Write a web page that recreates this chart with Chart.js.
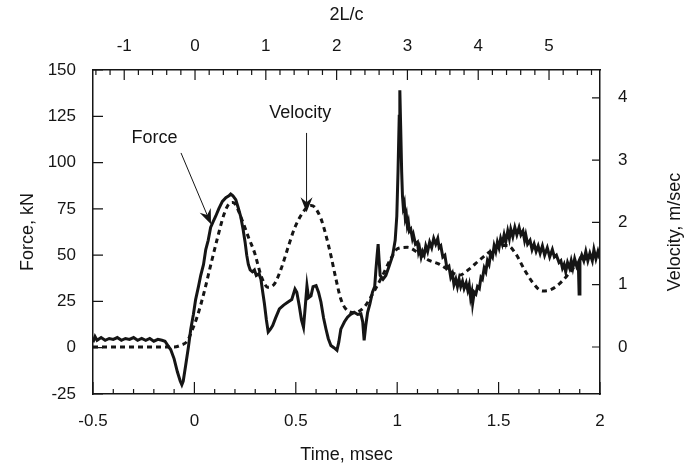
<!DOCTYPE html>
<html>
<head>
<meta charset="utf-8">
<script src="https://cdn.jsdelivr.net/npm/chart.js@4"></script>
<style>
  html, body { margin: 0; padding: 0; background: #fff; }
  canvas { display: block; }
</style>
</head>
<body>
<canvas id="forceVelocityChart" width="690" height="467"></canvas>
<script>
// force record, time in msec / force in kN
const forceTime = [
  -0.5, -0.49, -0.48, -0.46, -0.44, -0.42, -0.40, -0.38, -0.36, -0.34, -0.32, -0.30, -0.28, -0.26, -0.24, -0.22, -0.20, -0.18, -0.16, -0.145,
  -0.13, -0.117, -0.10, -0.084, -0.07, -0.062, -0.055, -0.043, -0.03, -0.018, -0.005, 0.006, 0.02, 0.031, 0.045, 0.056, 0.068, 0.08, 0.092, 0.105,
  0.12, 0.138, 0.155, 0.17, 0.179, 0.19, 0.204, 0.215, 0.228, 0.24, 0.25, 0.258, 0.266, 0.275, 0.286, 0.296, 0.305, 0.319, 0.328, 0.337,
  0.345, 0.355, 0.364, 0.375, 0.386, 0.40, 0.419, 0.44, 0.46, 0.48, 0.496, 0.505, 0.517, 0.528, 0.538, 0.545, 0.555, 0.563, 0.575, 0.585,
  0.60, 0.612, 0.624, 0.637, 0.649, 0.66, 0.673, 0.688, 0.703, 0.712, 0.722, 0.74, 0.755, 0.77, 0.788, 0.805, 0.821, 0.83, 0.837, 0.845,
  0.854, 0.866, 0.878, 0.889, 0.895, 0.901, 0.906, 0.911, 0.916, 0.93, 0.944, 0.96, 0.977, 0.99, 0.998, 1.004, 1.01, 1.013, 1.017, 1.022,
  1.026, 1.03, 1.035, 1.04, 1.045, 1.05, 1.055, 1.06, 1.067, 1.075, 1.08, 1.09, 1.10, 1.105, 1.11, 1.118, 1.125, 1.133, 1.141, 1.15,
  1.16, 1.17, 1.18, 1.19, 1.20, 1.207, 1.215, 1.225, 1.235, 1.245, 1.255, 1.264, 1.272, 1.28, 1.289, 1.297, 1.305, 1.313, 1.322, 1.33,
  1.34, 1.348, 1.355, 1.362, 1.368, 1.372, 1.38, 1.388, 1.396, 1.405, 1.413, 1.42, 1.429, 1.437, 1.445, 1.453, 1.461, 1.47, 1.478, 1.486,
  1.494, 1.502, 1.51, 1.518, 1.527, 1.535, 1.545, 1.553, 1.56, 1.57, 1.58, 1.59, 1.601, 1.61, 1.62, 1.628, 1.634, 1.643, 1.655, 1.665,
  1.675, 1.685, 1.695, 1.705, 1.716, 1.727, 1.74, 1.752, 1.765, 1.775, 1.785, 1.798, 1.807, 1.815, 1.823, 1.831, 1.84, 1.85, 1.858, 1.866,
  1.875, 1.885, 1.893, 1.897, 1.901, 1.91, 1.92, 1.93, 1.94, 1.95, 1.962, 1.97, 1.98, 1.99, 2.0
];
const forceKN = [
  3, 6, 4, 5.5, 4, 5, 4.5, 5.5, 4, 5, 4.5, 5.5, 4, 5, 4, 5, 3.5, 4.5, 4, 3.5,
  1, -1, -6, -13, -18, -20, -18, -9.5, 0, 10, 18, 26, 33, 39, 45, 53, 58, 65, 68, 71,
  75, 79, 81, 82, 83, 82, 80, 76, 71, 64, 57, 50, 45, 42, 41, 42, 39, 40, 37, 30,
  24, 15, 8.5, 10, 12, 16, 21, 23, 24.5, 26, 31.7, 30, 22.7, 15, 11, 20, 33.5, 27, 28, 33,
  33.5, 30, 24.7, 16, 10, 5, 1.2, 0, -1.4, 3, 10, 14, 16.5, 18, 19.2, 18, 18.3, 14, 4, 12,
  19, 24, 30, 33, 42, 50, 56, 47, 39, 37, 39, 44, 49.6, 58, 71, 95, 125, 139, 120, 95,
  82, 76, 78, 70, 72, 66, 68, 63, 64, 59, 61, 56, 57, 52, 54, 49, 52, 50, 55, 52,
  57, 54, 59, 56, 59, 54, 55, 49, 50, 43, 44, 38, 40, 34, 37, 33, 37, 33, 36, 32,
  35, 31, 34, 27, 30, 24, 30, 29, 33, 32, 38, 37, 43, 41, 47, 45, 51, 49, 55, 52,
  57, 54, 59, 56, 61, 57, 63, 59, 64, 60, 65, 61, 65, 61, 63, 58, 61, 56, 58, 53,
  56, 52, 55, 51, 55, 50, 54, 49, 53, 49, 50, 46, 47, 43, 45, 41, 46, 43, 47, 43,
  48, 44, 46, 29, 47, 50, 47, 52, 47, 51, 47, 53, 48, 52, 48
];

// velocity record, time in msec / velocity in m/sec
const velTime = [
  -0.5, -0.13, -0.10, -0.067, -0.034, -0.01, 0.015, 0.048, 0.08, 0.113, 0.146, 0.171, 0.19, 0.204, 0.236, 0.269, 0.296, 0.328, 0.345, 0.361,
  0.394, 0.427, 0.46, 0.493, 0.525, 0.558, 0.575, 0.591, 0.624, 0.649, 0.673, 0.698, 0.722, 0.747, 0.788, 0.837, 0.887, 0.928, 0.969, 1.002,
  1.051, 1.10, 1.158, 1.207, 1.256, 1.305, 1.355, 1.404, 1.453, 1.502, 1.543, 1.584, 1.626, 1.667, 1.716, 1.757, 1.798, 1.839, 1.88, 1.93, 2.0
];
const velMS = [
  0, 0, 0, 0.03, 0.1, 0.28, 0.5, 0.88, 1.31, 1.74, 2.13, 2.3, 2.32, 2.28, 2.03, 1.74, 1.52, 1.15, 1.02, 0.96,
  1.01, 1.25, 1.58, 1.9, 2.11, 2.25, 2.27, 2.25, 2.06, 1.79, 1.47, 1.09, 0.77, 0.61, 0.55, 0.64, 0.9, 1.15, 1.42, 1.58,
  1.6, 1.52, 1.39, 1.33, 1.23, 1.15, 1.25, 1.39, 1.52, 1.63, 1.63, 1.5, 1.25, 1.04, 0.9, 0.92, 1.01, 1.15, 1.31, 1.42, 1.47
];

// tick labels
const timeTicks = [-0.5, 0, 0.5, 1, 1.5, 2];
const waveTicks = [-1, 0, 1, 2, 3, 4, 5];
const forceTicks = [-25, 0, 25, 50, 75, 100, 125, 150];
const velTicks = [0, 1, 2, 3, 4];

// annotation anchors (time, force)
const forceArrow = { text: 'Force', label: [-0.197, 113.4], from: [-0.066, 105.2], to: [0.082, 66.7] };
const velArrow = { text: 'Velocity', label: [0.522, 126.9], from: [0.553, 116], to: [0.553, 73.1] };

const FONT = "'Liberation Sans', Arial, Helvetica, sans-serif";
const INK = '#151515';

Chart.defaults.font.family = FONT;
Chart.defaults.color = INK;

function setTicks(values) {
  return (scale) => { scale.ticks = values.map(v => ({ value: v })); };
}

function drawArrow(ctx, x1, y1, x2, y2) {
  const ang = Math.atan2(y2 - y1, x2 - x1);
  const len = 15, half = 6, notch = 10;
  ctx.beginPath();
  ctx.moveTo(x1, y1);
  ctx.lineTo(x2 - Math.cos(ang) * notch, y2 - Math.sin(ang) * notch);
  ctx.stroke();
  ctx.save();
  ctx.translate(x2, y2);
  ctx.rotate(ang);
  ctx.beginPath();
  ctx.moveTo(0, 0);
  ctx.lineTo(-len, -half);
  ctx.lineTo(-notch, 0);
  ctx.lineTo(-len, half);
  ctx.closePath();
  ctx.fill();
  ctx.restore();
}

const frameTicks = {
  id: 'frameTicks',
  afterDraw(chart) {
    const { ctx, chartArea: a, scales } = chart;
    ctx.save();
    ctx.strokeStyle = INK;
    ctx.fillStyle = INK;
    ctx.lineWidth = 1.2;
    ctx.beginPath();
    // bottom: minor every 0.1 msec
    for (let i = 0; i <= 25; i++) {
      const px = scales.x.getPixelForValue(-0.5 + i * 0.1);
      const l = i % 5 === 0 ? 12 : 5;
      ctx.moveTo(px, a.bottom);
      ctx.lineTo(px, a.bottom - l);
    }
    // top: minor every 0.2 of 2L/c
    for (let i = -7; i <= 28; i++) {
      const v = i * 0.2;
      if (v < scales.x2.min || v > scales.x2.max) continue;
      const px = scales.x2.getPixelForValue(v);
      const l = i % 5 === 0 ? 10 : 5;
      ctx.moveTo(px, a.top);
      ctx.lineTo(px, a.top + l);
    }
    forceTicks.forEach(v => {
      const py = scales.y.getPixelForValue(v);
      ctx.moveTo(a.left, py);
      ctx.lineTo(a.left + 10, py);
    });
    velTicks.forEach(v => {
      const py = scales.y2.getPixelForValue(v);
      ctx.moveTo(a.right, py);
      ctx.lineTo(a.right - 8, py);
    });
    ctx.stroke();

    // right axis title reads bottom to top
    ctx.font = '18px ' + FONT;
    ctx.textAlign = 'center';
    ctx.textBaseline = 'middle';
    ctx.save();
    ctx.translate(675, (a.top + a.bottom) / 2);
    ctx.rotate(-Math.PI / 2);
    ctx.fillText('Velocity, m/sec', 0, 0);
    ctx.restore();

    // callouts
    ctx.lineWidth = 1;
    [forceArrow, velArrow].forEach(c => {
      const X = v => scales.x.getPixelForValue(v);
      const Y = v => scales.y.getPixelForValue(v);
      ctx.fillText(c.text, X(c.label[0]), Y(c.label[1]));
      drawArrow(ctx, X(c.from[0]), Y(c.from[1]), X(c.to[0]), Y(c.to[1]));
    });
    ctx.restore();
  }
};

const ctxLine = document.getElementById('forceVelocityChart').getContext('2d');
new Chart(ctxLine, {
  type: 'line',
  data: {
    datasets: [{
      label: 'Force',
      data: forceTime.map((t, i) => ({ x: t, y: forceKN[i] })),
      borderColor: INK,
      borderWidth: 3,
      pointRadius: 0,
      tension: 0,
      xAxisID: 'x',
      yAxisID: 'y'
    }, {
      label: 'Velocity',
      data: velTime.map((t, i) => ({ x: t, y: velMS[i] })),
      borderColor: INK,
      borderWidth: 3,
      borderDash: [5, 4],
      pointRadius: 0,
      cubicInterpolationMode: 'monotone',
      xAxisID: 'x',
      yAxisID: 'y2'
    }]
  },
  options: {
    responsive: false,
    animation: false,
    devicePixelRatio: 1,
    layout: { padding: 0 },
    plugins: { legend: { display: false }, tooltip: { enabled: false } },
    scales: {
      x: {
        type: 'linear', position: 'bottom', min: -0.5, max: 2,
        afterBuildTicks: setTicks(timeTicks),
        afterFit: (s) => { s.height = 73; },
        grid: { display: false, drawTicks: false },
        border: { display: true, color: INK, width: 1.5 },
        ticks: { padding: 17, font: { size: 17 }, color: INK, callback: v => String(v) },
        title: { display: true, text: 'Time, msec', font: { size: 18 }, padding: { top: 0, bottom: 1 } }
      },
      x2: {
        type: 'linear', position: 'top', min: -1.441, max: 5.72,
        afterBuildTicks: setTicks(waveTicks),
        afterFit: (s) => { s.height = 70; },
        grid: { display: false, drawTicks: false },
        border: { display: true, color: INK, width: 1.5 },
        ticks: { padding: 13, font: { size: 17 }, color: INK, callback: v => String(v) },
        title: { display: true, text: '2L/c', font: { size: 18 }, padding: { top: 4, bottom: 0 } }
      },
      y: {
        type: 'linear', position: 'left', min: -25, max: 150,
        afterBuildTicks: setTicks(forceTicks),
        afterFit: (s) => { s.width = 93; },
        grid: { display: false, drawTicks: false },
        border: { display: true, color: INK, width: 1.5 },
        ticks: { padding: 17, font: { size: 17 }, color: INK },
        title: { display: true, text: 'Force, kN', font: { size: 18 }, padding: { top: 17, bottom: 0 } }
      },
      y2: {
        type: 'linear', position: 'right', min: -0.754, max: 4.446,
        afterBuildTicks: setTicks(velTicks),
        afterFit: (s) => { s.width = 90; },
        grid: { display: false, drawTicks: false },
        border: { display: true, color: INK, width: 1.5 },
        ticks: { padding: 18, font: { size: 17 }, color: INK }
      }
    }
  },
  plugins: [frameTicks]
});
</script>
</body>
</html>
